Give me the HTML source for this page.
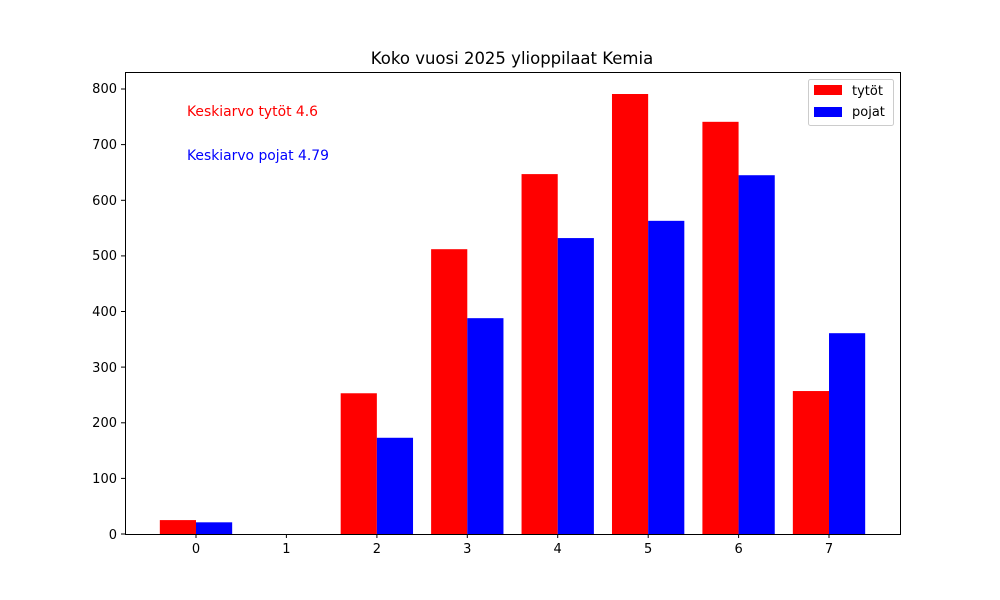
<!DOCTYPE html>
<html><head><meta charset="utf-8"><style>body{margin:0;background:#fff}svg{display:block}</style></head>
<body>
<svg width="1000" height="600" xmlns="http://www.w3.org/2000/svg" font-family="DejaVu Sans, Liberation Sans, sans-serif">
<rect width="1000" height="600" fill="#fff"/>
<g transform="translate(196,534) scale(90.43,-0.55625)">
<rect x="-0.4" y="0" width="0.4" height="25" fill="#f00"/>
<rect x="1.6" y="0" width="0.4" height="253" fill="#f00"/>
<rect x="2.6" y="0" width="0.4" height="512" fill="#f00"/>
<rect x="3.6" y="0" width="0.4" height="647" fill="#f00"/>
<rect x="4.6" y="0" width="0.4" height="791" fill="#f00"/>
<rect x="5.6" y="0" width="0.4" height="741" fill="#f00"/>
<rect x="6.6" y="0" width="0.4" height="257" fill="#f00"/>
<rect x="0" y="0" width="0.4" height="21" fill="#00f"/>
<rect x="2" y="0" width="0.4" height="173" fill="#00f"/>
<rect x="3" y="0" width="0.4" height="388" fill="#00f"/>
<rect x="4" y="0" width="0.4" height="532" fill="#00f"/>
<rect x="5" y="0" width="0.4" height="563" fill="#00f"/>
<rect x="6" y="0" width="0.4" height="645" fill="#00f"/>
<rect x="7" y="0" width="0.4" height="361" fill="#00f"/>
</g>
<rect x="125.5" y="72.5" width="775" height="462" fill="none" stroke="#000" stroke-width="1"/>
<g stroke="#000" stroke-width="1">
<line x1="196" y1="534" x2="196" y2="538"/><line x1="286.4" y1="534" x2="286.4" y2="538"/>
<line x1="376.9" y1="534" x2="376.9" y2="538"/><line x1="467.3" y1="534" x2="467.3" y2="538"/>
<line x1="557.7" y1="534" x2="557.7" y2="538"/><line x1="648.2" y1="534" x2="648.2" y2="538"/>
<line x1="738.6" y1="534" x2="738.6" y2="538"/><line x1="829" y1="534" x2="829" y2="538"/>
<line x1="121" y1="534" x2="125" y2="534"/><line x1="121" y1="478.4" x2="125" y2="478.4"/>
<line x1="121" y1="422.8" x2="125" y2="422.8"/><line x1="121" y1="367.1" x2="125" y2="367.1"/>
<line x1="121" y1="311.5" x2="125" y2="311.5"/><line x1="121" y1="255.9" x2="125" y2="255.9"/>
<line x1="121" y1="200.3" x2="125" y2="200.3"/><line x1="121" y1="144.6" x2="125" y2="144.6"/>
<line x1="121" y1="89" x2="125" y2="89"/>
</g>
<g font-size="13" text-anchor="middle" fill="#000">
<text x="196" y="553">0</text><text x="286.4" y="553">1</text><text x="376.9" y="553">2</text>
<text x="467.3" y="553">3</text><text x="557.7" y="553">4</text><text x="648.2" y="553">5</text>
<text x="738.6" y="553">6</text><text x="829" y="553">7</text>
</g>
<g font-size="13" text-anchor="end" fill="#000">
<text x="117" y="539">0</text><text x="117" y="483">100</text><text x="117" y="427">200</text>
<text x="117" y="372">300</text><text x="117" y="316">400</text><text x="117" y="260">500</text>
<text x="117" y="205">600</text><text x="117" y="149">700</text><text x="117" y="93">800</text>
</g>
<text x="512" y="64" font-size="16.5" text-anchor="middle">Koko vuosi 2025 ylioppilaat Kemia</text>
<text x="187" y="116" font-size="13.9" fill="#f00">Keskiarvo tytöt 4.6</text>
<text x="187" y="160" font-size="13.9" fill="#00f">Keskiarvo pojat 4.79</text>
<rect x="808.5" y="79.5" width="85" height="46" rx="2" fill="#fff" fill-opacity="0.8" stroke="#ccc"/>
<rect x="814" y="85" width="28" height="10" fill="#f00"/>
<rect x="814" y="107" width="28" height="10" fill="#00f"/>
<text x="852" y="95" font-size="13">tytöt</text>
<text x="852" y="116" font-size="13">pojat</text>
</svg>
</body></html>
